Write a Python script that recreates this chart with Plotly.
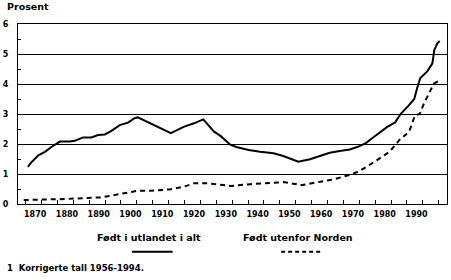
import plotly.graph_objects as go

# ---- data ----
years_total = [1867.7, 1869.0, 1871.1, 1873.1, 1875.2, 1877.8, 1880.9, 1882.5, 1885.1, 1887.7,
               1889.8, 1891.9, 1894.0, 1896.6, 1899.2, 1901.3, 1902.3, 1906.5, 1912.7, 1916.9,
               1920.0, 1922.9, 1926.3, 1928.3, 1931.5, 1933.6, 1937.2, 1940.8, 1945.0, 1948.1,
               1952.8, 1956.5, 1959.6, 1962.7, 1965.8, 1969.0, 1972.1, 1974.2, 1975.5, 1978.3,
               1980.8, 1983.3, 1985.0, 1987.5, 1989.3, 1990.3, 1991.2, 1993.4, 1995.0, 1995.6,
               1996.6, 1997.3]
values_total = [1.24, 1.41, 1.63, 1.74, 1.91, 2.08, 2.08, 2.11, 2.22, 2.22,
                2.30, 2.32, 2.44, 2.63, 2.71, 2.86, 2.89, 2.67, 2.36, 2.58,
                2.69, 2.82, 2.41, 2.27, 1.97, 1.89, 1.80, 1.74, 1.69, 1.60,
                1.41, 1.49, 1.60, 1.71, 1.77, 1.82, 1.93, 2.04, 2.15, 2.38,
                2.57, 2.72, 3.00, 3.28, 3.50, 3.90, 4.20, 4.42, 4.69, 5.13,
                5.36, 5.43]

years_outside = [1866.4, 1872.0, 1880.4, 1886.0, 1890.8, 1895.0, 1899.2, 1902.3, 1906.5, 1912.7,
                 1916.9, 1920.0, 1924.2, 1931.5, 1937.7, 1942.9, 1948.1, 1952.3, 1953.3, 1958.6,
                 1963.8, 1969.0, 1972.1, 1975.2, 1978.3, 1981.5, 1984.6, 1987.7, 1989.5, 1991.0,
                 1992.4, 1994.0, 1995.5, 1997.6]
values_outside = [0.13, 0.14, 0.17, 0.20, 0.22, 0.30, 0.38, 0.44, 0.44, 0.49,
                  0.58, 0.69, 0.69, 0.60, 0.66, 0.69, 0.73, 0.66, 0.62, 0.72,
                  0.82, 0.97, 1.10, 1.30, 1.52, 1.74, 2.13, 2.41, 2.95, 3.00,
                  3.36, 3.69, 4.02, 4.13]

label_years = list(range(1870, 2000, 10))
tick_labels = [str(y) for y in label_years]
minor_tick_years = list(range(1867, 2000, 5))
y_ticks = [0, 1, 2, 3, 4, 5, 6]
y_minor = [0.5, 1.5, 2.5, 3.5, 4.5, 5.5]

name_total = "Født i utlandet i alt"
name_outside = "Født utenfor Norden"
title_text = "Prosent"
footnote = "1\u00a0\u00a0Korrigerte tall 1956-1994."

FONT = "DejaVu Sans"
X_RANGE = [1864.6, 1999.6]
Y_RANGE = [0, 6]

fig = go.Figure()
fig.add_trace(go.Scatter(x=years_total, y=values_total, mode="lines",
                         line=dict(color="black", width=2), name=name_total,
                         showlegend=False, hoverinfo="skip"))
fig.add_trace(go.Scatter(x=years_outside, y=values_outside, mode="lines",
                         line=dict(color="black", width=2, dash="5px,4px"), name=name_outside,
                         showlegend=False, hoverinfo="skip"))

tf = dict(family=FONT, size=8, color="black", weight="bold")
fig.update_layout(
    width=451, height=280,
    margin=dict(l=16, r=3, t=24, b=76),
    paper_bgcolor="white", plot_bgcolor="white",
    showlegend=False,
    font=dict(family=FONT, size=8, color="black", weight="bold"),
    xaxis=dict(range=X_RANGE, showgrid=False, zeroline=False,
               showline=True, linecolor="black", linewidth=1, mirror=True,
               tickmode="array", tickvals=label_years, ticktext=tick_labels,
               ticks="", ticklabelstandoff=2, tickfont=tf,
               minor=dict(tickmode="array", tickvals=minor_tick_years, ticks="inside",
                          ticklen=4, tickwidth=1, tickcolor="black", showgrid=False)),
    yaxis=dict(range=Y_RANGE, showgrid=True, gridcolor="black", gridwidth=1,
               zeroline=False, showline=True, linecolor="black", linewidth=1, mirror=True,
               tickmode="array", tickvals=y_ticks, ticks="", ticklabelstandoff=7,
               tickfont=tf,
               minor=dict(tickmode="array", tickvals=y_minor, ticks="inside",
                          ticklen=3, tickwidth=1, tickcolor="black", showgrid=False)),
)

W = 432.0
H = 180.0
def px_x(x):
    return (x - 16) / W
def px_y(y):
    return (204 - y) / H

annotations = [
    dict(text=title_text, x=px_x(2.5), y=px_y(6.7), xanchor="left", yanchor="middle",
         font=dict(family=FONT, size=9.5, weight="bold")),
    dict(text=name_total, x=px_x(148), y=px_y(237.5), xanchor="center", yanchor="middle",
         font=dict(family=FONT, size=9.5, weight="bold")),
    dict(text=name_outside, x=px_x(298), y=px_y(237.5), xanchor="center", yanchor="middle",
         font=dict(family=FONT, size=9.5, weight="bold")),
    dict(text=footnote, x=px_x(2.5), y=px_y(268), xanchor="left", yanchor="middle",
         font=dict(family=FONT, size=8.5, weight="bold")),
]
for a in annotations:
    a.update(xref="paper", yref="paper", showarrow=False)
fig.update_layout(annotations=annotations)

fig.add_shape(type="line", xref="paper", yref="paper",
              x0=px_x(130.7), x1=px_x(171.7), y0=px_y(251.7), y1=px_y(251.7),
              line=dict(color="black", width=2))
fig.add_shape(type="line", xref="paper", yref="paper",
              x0=px_x(281), x1=px_x(321.7), y0=px_y(251.7), y1=px_y(251.7),
              line=dict(color="black", width=2, dash="4px,3px"))

fig.write_html("out.html")
